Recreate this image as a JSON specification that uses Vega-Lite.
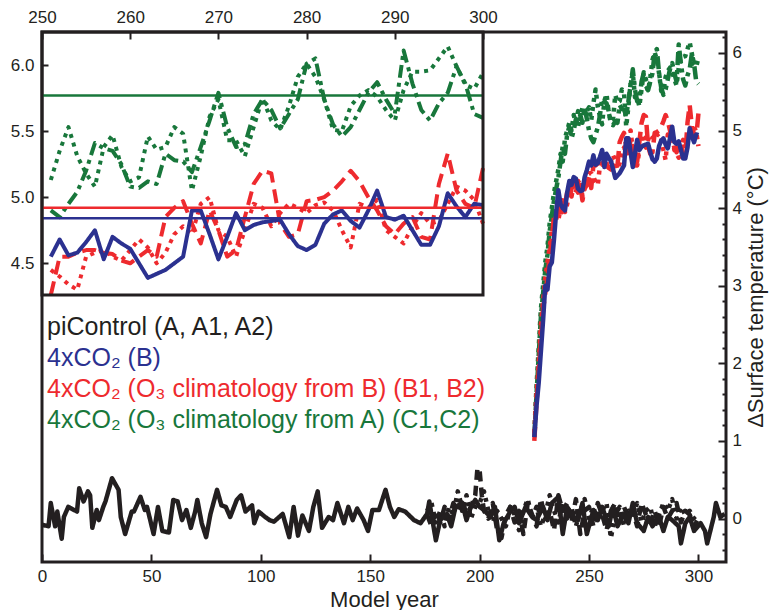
{
  "$schema": "https://vega.github.io/schema/vega-lite/v6.json",
  "width": 684,
  "height": 530,
  "autosize": {"type": "none"},
  "padding": {"left": 42, "top": 32, "right": 45, "bottom": 48},
  "background": "white",
  "config": {
    "font": "Liberation Sans",
    "view": {"stroke": "#231f20", "strokeWidth": 3},
    "axis": {"grid": false, "domain": false, "tickColor": "#231f20", "tickWidth": 2, "labelColor": "#231f20", "labelFontSize": 17, "labelFlush": false, "labelOverlap": false, "titleColor": "#231f20", "titleFontWeight": "normal"}
  },
  "datasets": {
    "runs": [
      {"series":"A2","year":176,"value":0.1},{"series":"A2","year":178,"value":0.2},{"series":"A2","year":180,"value":-0.05},{"series":"A2","year":182,"value":0.1},{"series":"A2","year":184,"value":-0.1},{"series":"A2","year":186,"value":0.15},{"series":"A2","year":188,"value":0.05},{"series":"A2","year":190,"value":0.35},{"series":"A2","year":191,"value":0.25},{"series":"A2","year":192,"value":0.1},{"series":"A2","year":194,"value":0.3},{"series":"A2","year":196,"value":0.0},{"series":"A2","year":198,"value":0.15},{"series":"A2","year":200,"value":0.2},{"series":"A2","year":202,"value":0.35},{"series":"A2","year":204,"value":0.1},{"series":"A2","year":206,"value":-0.05},{"series":"A2","year":208,"value":0.1},{"series":"A2","year":210,"value":0.0},{"series":"A2","year":212,"value":-0.1},{"series":"A2","year":214,"value":0.15},{"series":"A2","year":216,"value":0.05},{"series":"A2","year":218,"value":-0.15},{"series":"A2","year":220,"value":0.1},{"series":"A2","year":222,"value":0.25},{"series":"A2","year":224,"value":0.0},{"series":"A2","year":226,"value":0.15},{"series":"A2","year":228,"value":-0.1},{"series":"A2","year":230,"value":0.05},{"series":"A2","year":232,"value":0.3},{"series":"A2","year":234,"value":0.1},{"series":"A2","year":236,"value":-0.05},{"series":"A2","year":238,"value":0.2},{"series":"A2","year":240,"value":0.0},{"series":"A2","year":242,"value":0.15},{"series":"A2","year":244,"value":-0.1},{"series":"A2","year":246,"value":0.1},{"series":"A2","year":248,"value":0.25},{"series":"A2","year":250,"value":0.0},{"series":"A2","year":252,"value":0.15},{"series":"A2","year":254,"value":-0.05},{"series":"A2","year":256,"value":0.1},{"series":"A2","year":258,"value":0.2},{"series":"A2","year":260,"value":-0.25},{"series":"A2","year":262,"value":0.05},{"series":"A2","year":264,"value":0.15},{"series":"A2","year":266,"value":-0.1},{"series":"A2","year":268,"value":0.1},{"series":"A2","year":270,"value":0.05},{"series":"A2","year":272,"value":0.2},{"series":"A2","year":274,"value":-0.05},{"series":"A2","year":276,"value":0.1},{"series":"A2","year":278,"value":0.15},{"series":"A2","year":280,"value":-0.1},{"series":"A2","year":282,"value":0.05},{"series":"A2","year":284,"value":0.2},{"series":"A2","year":286,"value":0.1},{"series":"A2","year":288,"value":0.25},{"series":"A2","year":290,"value":0.0},{"series":"A2","year":292,"value":0.15},{"series":"A2","year":294,"value":0.05},{"series":"A2","year":296,"value":0.1},{"series":"A2","year":298,"value":0.0},{"series":"A2","year":300,"value":-0.05},
      {"series":"A1","year":176,"value":0.05},{"series":"A1","year":178,"value":-0.1},{"series":"A1","year":180,"value":0.1},{"series":"A1","year":182,"value":-0.05},{"series":"A1","year":184,"value":0.15},{"series":"A1","year":186,"value":0.0},{"series":"A1","year":188,"value":0.2},{"series":"A1","year":190,"value":0.1},{"series":"A1","year":192,"value":0.25},{"series":"A1","year":194,"value":0.05},{"series":"A1","year":196,"value":0.15},{"series":"A1","year":198,"value":0.3},{"series":"A1","year":199,"value":0.65},{"series":"A1","year":200,"value":0.62},{"series":"A1","year":201,"value":0.3},{"series":"A1","year":202,"value":0.1},{"series":"A1","year":204,"value":0.0},{"series":"A1","year":206,"value":0.2},{"series":"A1","year":208,"value":-0.15},{"series":"A1","year":210,"value":-0.25},{"series":"A1","year":212,"value":0.05},{"series":"A1","year":214,"value":0.15},{"series":"A1","year":216,"value":-0.05},{"series":"A1","year":218,"value":0.1},{"series":"A1","year":220,"value":-0.2},{"series":"A1","year":222,"value":0.2},{"series":"A1","year":224,"value":0.05},{"series":"A1","year":226,"value":-0.1},{"series":"A1","year":228,"value":0.25},{"series":"A1","year":230,"value":0.0},{"series":"A1","year":232,"value":0.1},{"series":"A1","year":234,"value":-0.15},{"series":"A1","year":236,"value":0.3},{"series":"A1","year":238,"value":0.1},{"series":"A1","year":240,"value":0.2},{"series":"A1","year":242,"value":-0.05},{"series":"A1","year":244,"value":0.25},{"series":"A1","year":246,"value":-0.2},{"series":"A1","year":248,"value":0.1},{"series":"A1","year":250,"value":0.15},{"series":"A1","year":252,"value":-0.1},{"series":"A1","year":254,"value":0.2},{"series":"A1","year":256,"value":0.05},{"series":"A1","year":258,"value":-0.15},{"series":"A1","year":260,"value":0.1},{"series":"A1","year":262,"value":0.2},{"series":"A1","year":264,"value":-0.05},{"series":"A1","year":266,"value":0.15},{"series":"A1","year":268,"value":0.0},{"series":"A1","year":270,"value":0.1},{"series":"A1","year":272,"value":-0.1},{"series":"A1","year":274,"value":0.2},{"series":"A1","year":276,"value":0.05},{"series":"A1","year":278,"value":-0.05},{"series":"A1","year":280,"value":0.1},{"series":"A1","year":282,"value":-0.1},{"series":"A1","year":284,"value":0.15},{"series":"A1","year":286,"value":0.0},{"series":"A1","year":288,"value":0.1},{"series":"A1","year":290,"value":0.2},{"series":"A1","year":292,"value":-0.05},{"series":"A1","year":294,"value":0.1},{"series":"A1","year":296,"value":0.05},{"series":"A1","year":298,"value":-0.1},{"series":"A1","year":300,"value":0.0},
      {"series":"A","year":0,"value":-0.08},{"series":"A","year":3,"value":-0.1},{"series":"A","year":4,"value":0.2},{"series":"A","year":6,"value":-0.1},{"series":"A","year":7,"value":0.09},{"series":"A","year":9,"value":-0.26},{"series":"A","year":10,"value":0.02},{"series":"A","year":12,"value":0.15},{"series":"A","year":16,"value":0.09},{"series":"A","year":17,"value":0.39},{"series":"A","year":19,"value":0.22},{"series":"A","year":21,"value":0.35},{"series":"A","year":22,"value":0.3},{"series":"A","year":23,"value":-0.12},{"series":"A","year":25,"value":0.11},{"series":"A","year":26,"value":-0.02},{"series":"A","year":28,"value":0.15},{"series":"A","year":29,"value":0.22},{"series":"A","year":32,"value":0.52},{"series":"A","year":35,"value":0.37},{"series":"A","year":36,"value":0.02},{"series":"A","year":38,"value":-0.2},{"series":"A","year":41,"value":0.09},{"series":"A","year":42,"value":0.09},{"series":"A","year":45,"value":0.28},{"series":"A","year":47,"value":0.11},{"series":"A","year":48,"value":0.15},{"series":"A","year":51,"value":-0.2},{"series":"A","year":53,"value":0.15},{"series":"A","year":55,"value":-0.16},{"series":"A","year":58,"value":-0.18},{"series":"A","year":60,"value":0.24},{"series":"A","year":62,"value":0.22},{"series":"A","year":64,"value":-0.02},{"series":"A","year":66,"value":0.11},{"series":"A","year":68,"value":-0.12},{"series":"A","year":70,"value":0.09},{"series":"A","year":71,"value":0.24},{"series":"A","year":73,"value":-0.06},{"series":"A","year":75,"value":-0.24},{"series":"A","year":77,"value":0.06},{"series":"A","year":80,"value":0.37},{"series":"A","year":82,"value":0.17},{"series":"A","year":84,"value":0.15},{"series":"A","year":86,"value":0.02},{"series":"A","year":89,"value":0.24},{"series":"A","year":91,"value":0.3},{"series":"A","year":93,"value":0.09},{"series":"A","year":96,"value":0.17},{"series":"A","year":97,"value":-0.06},{"series":"A","year":99,"value":0.09},{"series":"A","year":102,"value":0.02},{"series":"A","year":104,"value":-0.02},{"series":"A","year":106,"value":-0.04},{"series":"A","year":110,"value":0.06},{"series":"A","year":113,"value":-0.24},{"series":"A","year":115,"value":0.15},{"series":"A","year":117,"value":-0.22},{"series":"A","year":119,"value":0.04},{"series":"A","year":122,"value":-0.16},{"series":"A","year":124,"value":0.15},{"series":"A","year":126,"value":0.35},{"series":"A","year":128,"value":-0.12},{"series":"A","year":131,"value":0.02},{"series":"A","year":133,"value":-0.02},{"series":"A","year":135,"value":0.2},{"series":"A","year":138,"value":-0.06},{"series":"A","year":140,"value":0.15},{"series":"A","year":142,"value":-0.02},{"series":"A","year":144,"value":0.13},{"series":"A","year":147,"value":-0.02},{"series":"A","year":149,"value":-0.16},{"series":"A","year":151,"value":0.11},{"series":"A","year":154,"value":0.11},{"series":"A","year":157,"value":0.37},{"series":"A","year":159,"value":0.15},{"series":"A","year":161,"value":0.02},{"series":"A","year":163,"value":0.12},{"series":"A","year":166,"value":0.09},{"series":"A","year":170,"value":-0.02},{"series":"A","year":173,"value":-0.06},{"series":"A","year":176,"value":0.06},{"series":"A","year":177,"value":0.22},{"series":"A","year":180,"value":-0.28},{"series":"A","year":182,"value":-0.02},{"series":"A","year":185,"value":0.06},{"series":"A","year":187,"value":-0.1},{"series":"A","year":189,"value":0.15},{"series":"A","year":192,"value":0.2},{"series":"A","year":194,"value":-0.02},{"series":"A","year":196,"value":0.15},{"series":"A","year":198,"value":0.24},{"series":"A","year":200,"value":0.15},{"series":"A","year":202,"value":0.11},{"series":"A","year":205,"value":0.02},{"series":"A","year":207,"value":0.15},{"series":"A","year":209,"value":-0.28},{"series":"A","year":211,"value":-0.06},{"series":"A","year":214,"value":0.09},{"series":"A","year":216,"value":0.15},{"series":"A","year":218,"value":-0.06},{"series":"A","year":221,"value":0.15},{"series":"A","year":224,"value":0.02},{"series":"A","year":226,"value":-0.02},{"series":"A","year":229,"value":0.15},{"series":"A","year":231,"value":-0.02},{"series":"A","year":233,"value":0.2},{"series":"A","year":236,"value":0.28},{"series":"A","year":238,"value":-0.2},{"series":"A","year":240,"value":0.15},{"series":"A","year":243,"value":0.02},{"series":"A","year":245,"value":-0.02},{"series":"A","year":247,"value":0.2},{"series":"A","year":249,"value":-0.2},{"series":"A","year":252,"value":0.11},{"series":"A","year":254,"value":-0.02},{"series":"A","year":256,"value":0.15},{"series":"A","year":259,"value":-0.1},{"series":"A","year":261,"value":0.15},{"series":"A","year":263,"value":-0.1},{"series":"A","year":266,"value":0.06},{"series":"A","year":268,"value":-0.06},{"series":"A","year":270,"value":0.2},{"series":"A","year":272,"value":-0.06},{"series":"A","year":275,"value":-0.16},{"series":"A","year":277,"value":0.02},{"series":"A","year":279,"value":-0.1},{"series":"A","year":282,"value":0.02},{"series":"A","year":284,"value":-0.16},{"series":"A","year":286,"value":0.02},{"series":"A","year":288,"value":-0.02},{"series":"A","year":291,"value":-0.1},{"series":"A","year":292,"value":-0.32},{"series":"A","year":294,"value":-0.06},{"series":"A","year":296,"value":0.02},{"series":"A","year":298,"value":-0.16},{"series":"A","year":301,"value":-0.06},{"series":"A","year":303,"value":-0.16},{"series":"A","year":304,"value":-0.32},{"series":"A","year":307,"value":0.02},{"series":"A","year":308,"value":0.2},{"series":"A","year":310,"value":0.02},{"series":"A","year":312,"value":0.06},
      {"series":"C2","year":225,"value":1.1},{"series":"C2","year":226,"value":1.7},{"series":"C2","year":227,"value":2.2},{"series":"C2","year":228,"value":2.7},{"series":"C2","year":229,"value":3.0},{"series":"C2","year":230,"value":3.3},{"series":"C2","year":231,"value":3.5},{"series":"C2","year":232,"value":3.8},{"series":"C2","year":233,"value":4.0},{"series":"C2","year":234,"value":4.2},{"series":"C2","year":235,"value":4.35},{"series":"C2","year":236,"value":4.5},{"series":"C2","year":237,"value":4.7},{"series":"C2","year":238,"value":4.6},{"series":"C2","year":239,"value":4.9},{"series":"C2","year":240,"value":5.0},{"series":"C2","year":241,"value":5.1},{"series":"C2","year":242,"value":5.0},{"series":"C2","year":243,"value":5.2},{"series":"C2","year":244,"value":5.1},{"series":"C2","year":245,"value":5.25},{"series":"C2","year":246,"value":5.15},{"series":"C2","year":247,"value":5.3},{"series":"C2","year":248,"value":5.2},{"series":"C2","year":249,"value":5.25},{"series":"C2","year":250,"value":5.3},
      {"series":"C2","year":251,"value":5.13},{"series":"C2","year":252,"value":5.35},{"series":"C2","year":253,"value":5.53},{"series":"C2","year":254,"value":5.31},{"series":"C2","year":255,"value":5.18},{"series":"C2","year":256,"value":5.08},{"series":"C2","year":257,"value":5.38},{"series":"C2","year":258,"value":5.47},{"series":"C2","year":259,"value":5.23},{"series":"C2","year":260,"value":5.12},{"series":"C2","year":261,"value":5.15},{"series":"C2","year":262,"value":5.46},{"series":"C2","year":263,"value":5.36},{"series":"C2","year":264,"value":5.38},{"series":"C2","year":265,"value":5.53},{"series":"C2","year":266,"value":5.48},{"series":"C2","year":267,"value":5.05},{"series":"C2","year":268,"value":5.31},{"series":"C2","year":269,"value":5.61},{"series":"C2","year":270,"value":5.74},{"series":"C2","year":271,"value":5.43},{"series":"C2","year":272,"value":5.43},{"series":"C2","year":273,"value":5.31},{"series":"C2","year":274,"value":5.53},{"series":"C2","year":275,"value":5.75},{"series":"C2","year":276,"value":5.58},{"series":"C2","year":277,"value":5.51},{"series":"C2","year":278,"value":5.69},{"series":"C2","year":279,"value":5.91},{"series":"C2","year":280,"value":6.01},{"series":"C2","year":281,"value":5.91},{"series":"C2","year":282,"value":5.74},{"series":"C2","year":283,"value":5.51},{"series":"C2","year":284,"value":5.5},{"series":"C2","year":285,"value":5.69},{"series":"C2","year":286,"value":5.77},{"series":"C2","year":287,"value":5.81},{"series":"C2","year":288,"value":5.76},{"series":"C2","year":289,"value":5.66},{"series":"C2","year":290,"value":5.58},{"series":"C2","year":291,"value":5.81},{"series":"C2","year":292,"value":5.95},{"series":"C2","year":293,"value":5.95},{"series":"C2","year":294,"value":5.96},{"series":"C2","year":295,"value":6.05},{"series":"C2","year":296,"value":6.14},{"series":"C2","year":297,"value":5.99},{"series":"C2","year":298,"value":5.85},{"series":"C2","year":299,"value":5.82},{"series":"C2","year":300,"value":5.94},
      {"series":"C1","year":225,"value":1.05},{"series":"C1","year":226,"value":1.6},{"series":"C1","year":227,"value":2.1},{"series":"C1","year":228,"value":2.6},{"series":"C1","year":229,"value":2.9},{"series":"C1","year":230,"value":3.2},{"series":"C1","year":231,"value":3.4},{"series":"C1","year":232,"value":3.7},{"series":"C1","year":233,"value":3.9},{"series":"C1","year":234,"value":4.1},{"series":"C1","year":235,"value":4.25},{"series":"C1","year":236,"value":4.4},{"series":"C1","year":237,"value":4.6},{"series":"C1","year":238,"value":4.8},{"series":"C1","year":239,"value":4.7},{"series":"C1","year":240,"value":4.95},{"series":"C1","year":241,"value":5.05},{"series":"C1","year":242,"value":4.9},{"series":"C1","year":243,"value":5.0},{"series":"C1","year":244,"value":5.15},{"series":"C1","year":245,"value":5.05},{"series":"C1","year":246,"value":5.2},{"series":"C1","year":247,"value":5.1},{"series":"C1","year":248,"value":5.3},{"series":"C1","year":249,"value":5.15},{"series":"C1","year":250,"value":5.0},
      {"series":"C1","year":251,"value":4.9},{"series":"C1","year":252,"value":4.85},{"series":"C1","year":253,"value":4.95},{"series":"C1","year":254,"value":5.04},{"series":"C1","year":255,"value":5.2},{"series":"C1","year":256,"value":5.41},{"series":"C1","year":257,"value":5.37},{"series":"C1","year":258,"value":5.35},{"series":"C1","year":259,"value":5.25},{"series":"C1","year":260,"value":5.08},{"series":"C1","year":261,"value":5.07},{"series":"C1","year":262,"value":5.12},{"series":"C1","year":263,"value":5.1},{"series":"C1","year":264,"value":5.33},{"series":"C1","year":265,"value":5.28},{"series":"C1","year":266,"value":5.27},{"series":"C1","year":267,"value":5.19},{"series":"C1","year":268,"value":5.38},{"series":"C1","year":269,"value":5.58},{"series":"C1","year":270,"value":5.79},{"series":"C1","year":271,"value":5.53},{"series":"C1","year":272,"value":5.38},{"series":"C1","year":273,"value":5.4},{"series":"C1","year":274,"value":5.63},{"series":"C1","year":275,"value":5.74},{"series":"C1","year":276,"value":5.66},{"series":"C1","year":277,"value":5.52},{"series":"C1","year":278,"value":5.63},{"series":"C1","year":279,"value":5.74},{"series":"C1","year":280,"value":6.01},{"series":"C1","year":281,"value":6.05},{"series":"C1","year":282,"value":5.74},{"series":"C1","year":283,"value":5.55},{"series":"C1","year":284,"value":5.46},{"series":"C1","year":285,"value":5.53},{"series":"C1","year":286,"value":5.66},{"series":"C1","year":287,"value":5.79},{"series":"C1","year":288,"value":5.87},{"series":"C1","year":289,"value":5.74},{"series":"C1","year":290,"value":5.63},{"series":"C1","year":291,"value":6.11},{"series":"C1","year":292,"value":5.86},{"series":"C1","year":293,"value":5.66},{"series":"C1","year":294,"value":5.58},{"series":"C1","year":295,"value":5.71},{"series":"C1","year":296,"value":5.79},{"series":"C1","year":297,"value":5.99},{"series":"C1","year":298,"value":5.86},{"series":"C1","year":299,"value":5.63},{"series":"C1","year":300,"value":5.6},
      {"series":"B2","year":225,"value":1.1},{"series":"B2","year":226,"value":1.6},{"series":"B2","year":227,"value":2.0},{"series":"B2","year":228,"value":2.5},{"series":"B2","year":229,"value":2.8},{"series":"B2","year":230,"value":3.1},{"series":"B2","year":231,"value":3.3},{"series":"B2","year":232,"value":3.5},{"series":"B2","year":233,"value":3.7},{"series":"B2","year":234,"value":3.8},{"series":"B2","year":235,"value":3.9},{"series":"B2","year":236,"value":3.85},{"series":"B2","year":237,"value":4.0},{"series":"B2","year":238,"value":4.1},{"series":"B2","year":239,"value":3.95},{"series":"B2","year":240,"value":4.05},{"series":"B2","year":241,"value":4.2},{"series":"B2","year":242,"value":4.15},{"series":"B2","year":243,"value":4.3},{"series":"B2","year":244,"value":4.25},{"series":"B2","year":245,"value":4.2},{"series":"B2","year":246,"value":4.35},{"series":"B2","year":247,"value":4.15},{"series":"B2","year":248,"value":4.3},{"series":"B2","year":249,"value":4.4},{"series":"B2","year":250,"value":4.45},
      {"series":"B2","year":251,"value":4.45},{"series":"B2","year":252,"value":4.4},{"series":"B2","year":253,"value":4.34},{"series":"B2","year":254,"value":4.3},{"series":"B2","year":255,"value":4.55},{"series":"B2","year":256,"value":4.58},{"series":"B2","year":257,"value":4.6},{"series":"B2","year":258,"value":4.55},{"series":"B2","year":259,"value":4.52},{"series":"B2","year":260,"value":4.6},{"series":"B2","year":261,"value":4.68},{"series":"B2","year":262,"value":4.62},{"series":"B2","year":263,"value":4.5},{"series":"B2","year":264,"value":4.58},{"series":"B2","year":265,"value":4.72},{"series":"B2","year":266,"value":4.78},{"series":"B2","year":267,"value":4.72},{"series":"B2","year":268,"value":4.95},{"series":"B2","year":269,"value":5.0},{"series":"B2","year":270,"value":4.75},{"series":"B2","year":271,"value":4.7},{"series":"B2","year":272,"value":4.55},{"series":"B2","year":273,"value":4.75},{"series":"B2","year":274,"value":4.95},{"series":"B2","year":275,"value":4.92},{"series":"B2","year":276,"value":4.78},{"series":"B2","year":277,"value":4.88},{"series":"B2","year":278,"value":4.95},{"series":"B2","year":279,"value":4.92},{"series":"B2","year":280,"value":4.88},{"series":"B2","year":281,"value":4.94},{"series":"B2","year":282,"value":4.96},{"series":"B2","year":283,"value":4.9},{"series":"B2","year":284,"value":4.75},{"series":"B2","year":285,"value":4.62},{"series":"B2","year":286,"value":4.95},{"series":"B2","year":287,"value":4.92},{"series":"B2","year":288,"value":4.98},{"series":"B2","year":289,"value":4.75},{"series":"B2","year":290,"value":4.7},{"series":"B2","year":291,"value":4.65},{"series":"B2","year":292,"value":4.78},{"series":"B2","year":293,"value":4.88},{"series":"B2","year":294,"value":4.8},{"series":"B2","year":295,"value":4.82},{"series":"B2","year":296,"value":4.95},{"series":"B2","year":297,"value":5.08},{"series":"B2","year":298,"value":5.05},{"series":"B2","year":299,"value":4.98},{"series":"B2","year":300,"value":4.8},
      {"series":"B1","year":225,"value":1.0},{"series":"B1","year":226,"value":1.5},{"series":"B1","year":227,"value":1.9},{"series":"B1","year":228,"value":2.3},{"series":"B1","year":229,"value":2.7},{"series":"B1","year":230,"value":2.9},{"series":"B1","year":231,"value":3.1},{"series":"B1","year":232,"value":3.4},{"series":"B1","year":233,"value":3.6},{"series":"B1","year":234,"value":3.9},{"series":"B1","year":235,"value":3.85},{"series":"B1","year":236,"value":4.0},{"series":"B1","year":237,"value":3.9},{"series":"B1","year":238,"value":4.1},{"series":"B1","year":239,"value":4.05},{"series":"B1","year":240,"value":4.2},{"series":"B1","year":241,"value":4.1},{"series":"B1","year":242,"value":4.25},{"series":"B1","year":243,"value":4.3},{"series":"B1","year":244,"value":4.2},{"series":"B1","year":245,"value":4.35},{"series":"B1","year":246,"value":4.3},{"series":"B1","year":247,"value":4.1},{"series":"B1","year":248,"value":4.25},{"series":"B1","year":249,"value":4.3},{"series":"B1","year":250,"value":4.4},
      {"series":"B1","year":251,"value":4.26},{"series":"B1","year":252,"value":4.55},{"series":"B1","year":253,"value":4.55},{"series":"B1","year":254,"value":4.58},{"series":"B1","year":255,"value":4.6},{"series":"B1","year":256,"value":4.6},{"series":"B1","year":257,"value":4.58},{"series":"B1","year":258,"value":4.57},{"series":"B1","year":259,"value":4.52},{"series":"B1","year":260,"value":4.5},{"series":"B1","year":261,"value":4.55},{"series":"B1","year":262,"value":4.6},{"series":"B1","year":263,"value":4.55},{"series":"B1","year":264,"value":4.85},{"series":"B1","year":265,"value":4.92},{"series":"B1","year":266,"value":4.97},{"series":"B1","year":267,"value":4.8},{"series":"B1","year":268,"value":4.65},{"series":"B1","year":269,"value":4.9},{"series":"B1","year":270,"value":4.75},{"series":"B1","year":271,"value":4.55},{"series":"B1","year":272,"value":4.6},{"series":"B1","year":273,"value":4.85},{"series":"B1","year":274,"value":5.1},{"series":"B1","year":275,"value":5.2},{"series":"B1","year":276,"value":5.18},{"series":"B1","year":277,"value":4.8},{"series":"B1","year":278,"value":4.7},{"series":"B1","year":279,"value":4.72},{"series":"B1","year":280,"value":4.97},{"series":"B1","year":281,"value":4.98},{"series":"B1","year":282,"value":5.0},{"series":"B1","year":283,"value":5.05},{"series":"B1","year":284,"value":5.12},{"series":"B1","year":285,"value":5.2},{"series":"B1","year":286,"value":5.12},{"series":"B1","year":287,"value":5.0},{"series":"B1","year":288,"value":4.9},{"series":"B1","year":289,"value":4.78},{"series":"B1","year":290,"value":4.72},{"series":"B1","year":291,"value":4.8},{"series":"B1","year":292,"value":4.85},{"series":"B1","year":293,"value":4.7},{"series":"B1","year":294,"value":4.68},{"series":"B1","year":295,"value":5.1},{"series":"B1","year":296,"value":5.33},{"series":"B1","year":297,"value":5.05},{"series":"B1","year":298,"value":4.95},{"series":"B1","year":299,"value":4.92},{"series":"B1","year":300,"value":5.22},
      {"series":"B","year":225,"value":1.05},{"series":"B","year":226,"value":1.45},{"series":"B","year":227,"value":1.75},{"series":"B","year":228,"value":2.15},{"series":"B","year":229,"value":2.55},{"series":"B","year":230,"value":3.0},{"series":"B","year":231,"value":2.95},{"series":"B","year":232,"value":3.25},{"series":"B","year":233,"value":3.3},{"series":"B","year":234,"value":3.6},{"series":"B","year":235,"value":3.95},{"series":"B","year":236,"value":4.23},{"series":"B","year":237,"value":4.05},{"series":"B","year":238,"value":4.0},{"series":"B","year":239,"value":3.97},{"series":"B","year":240,"value":4.2},{"series":"B","year":241,"value":4.35},{"series":"B","year":242,"value":4.3},{"series":"B","year":243,"value":4.4},{"series":"B","year":244,"value":4.38},{"series":"B","year":245,"value":4.25},{"series":"B","year":246,"value":4.22},{"series":"B","year":247,"value":4.23},{"series":"B","year":248,"value":4.4},{"series":"B","year":249,"value":4.49},{"series":"B","year":250,"value":4.6},
      {"series":"B","year":251,"value":4.55},{"series":"B","year":252,"value":4.68},{"series":"B","year":253,"value":4.56},{"series":"B","year":254,"value":4.58},{"series":"B","year":255,"value":4.66},{"series":"B","year":256,"value":4.75},{"series":"B","year":257,"value":4.53},{"series":"B","year":258,"value":4.7},{"series":"B","year":259,"value":4.65},{"series":"B","year":260,"value":4.61},{"series":"B","year":261,"value":4.5},{"series":"B","year":262,"value":4.39},{"series":"B","year":263,"value":4.42},{"series":"B","year":264,"value":4.45},{"series":"B","year":265,"value":4.5},{"series":"B","year":266,"value":4.55},{"series":"B","year":267,"value":4.9},{"series":"B","year":268,"value":4.9},{"series":"B","year":269,"value":4.72},{"series":"B","year":270,"value":4.53},{"series":"B","year":271,"value":4.7},{"series":"B","year":272,"value":4.88},{"series":"B","year":273,"value":4.75},{"series":"B","year":274,"value":4.79},{"series":"B","year":275,"value":4.81},{"series":"B","year":276,"value":4.82},{"series":"B","year":277,"value":4.83},{"series":"B","year":278,"value":4.72},{"series":"B","year":279,"value":4.63},{"series":"B","year":280,"value":4.6},{"series":"B","year":281,"value":4.64},{"series":"B","year":282,"value":4.8},{"series":"B","year":283,"value":4.87},{"series":"B","year":284,"value":4.9},{"series":"B","year":285,"value":4.82},{"series":"B","year":286,"value":4.77},{"series":"B","year":287,"value":4.9},{"series":"B","year":288,"value":5.05},{"series":"B","year":289,"value":4.85},{"series":"B","year":290,"value":4.83},{"series":"B","year":291,"value":4.86},{"series":"B","year":292,"value":4.75},{"series":"B","year":293,"value":4.64},{"series":"B","year":294,"value":4.64},{"series":"B","year":295,"value":4.78},{"series":"B","year":296,"value":5.03},{"series":"B","year":297,"value":4.93},{"series":"B","year":298,"value":4.85},{"series":"B","year":299,"value":4.95},{"series":"B","year":300,"value":4.94}
    ],
    "means": [
      {"series": "C1", "mean": 5.77},
      {"series": "B1", "mean": 4.92},
      {"series": "B", "mean": 4.84}
    ]
  },
  "layer": [
    {
      "data": {"name": "runs"},
      "mark": {"type": "line", "strokeWidth": 4.5, "strokeJoin": "round"},
      "encoding": {
        "x": {"field": "year", "type": "quantitative",
          "scale": {"domain": [0, 312.6], "nice": false, "zero": false},
          "axis": {"orient": "bottom", "values": [0, 50, 100, 150, 200, 250, 300], "tickSize": -8, "labelPadding": 14, "title": "Model year", "titleFontSize": 22, "titlePadding": 5}},
        "y": {"field": "value", "type": "quantitative",
          "scale": {"domain": [-0.56, 6.27], "nice": false, "zero": false},
          "axis": {"orient": "right", "values": [-0.4, -0.2, 0, 0.2, 0.4, 0.6, 0.8, 1, 1.2, 1.4, 1.6, 1.8, 2, 2.2, 2.4, 2.6, 2.8, 3, 3.2, 3.4, 3.6, 3.8, 4, 4.2, 4.4, 4.6, 4.8, 5, 5.2, 5.4, 5.6, 5.8, 6, 6.2],
            "labelExpr": "abs(datum.value - round(datum.value)) < 0.01 ? format(datum.value, 'd') : ''",
            "tickSize": {"condition": {"test": "abs(datum.value - round(datum.value)) < 0.01", "value": -8}, "value": -4},
            "labelPadding": 14, "labelAlign": "left",
            "title": "ΔSurface temperature (°C)", "titleFontSize": 22, "titleAngle": 270, "titleBaseline": "top", "titlePadding": 4}},
        "color": {"field": "series", "type": "nominal",
          "scale": {"domain": ["A", "A1", "A2", "B", "B1", "B2", "C1", "C2"], "range": ["#231f20", "#231f20", "#231f20", "#2b3190", "#ee2a2e", "#ee2a2e", "#18773b", "#18773b"]},
          "legend": {"orient": "none", "legendX": -20, "legendY": 282, "direction": "vertical", "title": null, "values": ["A", "B", "B1", "C1"],
            "labelExpr": "datum.value == 'A' ? 'piControl (A, A1, A2)' : datum.value == 'B' ? '4xCO₂ (B)' : datum.value == 'B1' ? '4xCO₂ (O₃ climatology from B) (B1, B2)' : '4xCO₂ (O₃ climatology from A) (C1,C2)'",
            "symbolType": "circle", "symbolOpacity": 0, "symbolSize": 0, "symbolStrokeWidth": 0, "labelFontSize": 25, "labelLimit": 700, "labelOffset": 0, "rowPadding": 5.2, "padding": 0,
            "encode": {"labels": {"update": {"fill": {"scale": "color", "field": "value"}}}}}},
        "strokeDash": {"field": "series", "type": "nominal",
          "scale": {"domain": ["A", "A1", "A2", "B", "B1", "B2", "C1", "C2"], "range": [[1, 0], [10, 6], [4, 5], [1, 0], [14, 7], [4, 5], [13, 5, 4, 5], [4, 5]]},
          "legend": null}
      }
    },
    {
      "layer": [
        {
          "data": {"name": "runs"},
          "transform": [
            {"filter": {"field": "series", "oneOf": ["C2", "C1", "B2", "B1", "B"]}},
            {"filter": {"field": "year", "range": [251, 300]}}
          ],
          "mark": {"type": "line", "strokeWidth": 4, "strokeJoin": "round", "clip": true},
          "encoding": {
            "x": {"field": "year", "type": "quantitative",
              "scale": {"domain": [250, 300], "range": [0, 441], "nice": false, "zero": false},
              "axis": {"orient": "top", "values": [250, 260, 270, 280, 290, 300], "tickSize": -7, "labelPadding": 13, "title": null}},
            "y": {"field": "value", "type": "quantitative",
              "scale": {"domain": [4.26, 6.25], "range": [263, 0], "nice": false, "zero": false},
              "axis": {"orient": "left", "values": [4.5, 5, 5.5, 6], "format": ".1f", "tickSize": -6, "labelPadding": 14, "title": null}},
            "color": {"field": "series", "type": "nominal"},
            "strokeDash": {"field": "series", "type": "nominal"}
          }
        },
        {
          "data": {"name": "means"},
          "mark": {"type": "rule", "strokeWidth": 2.5},
          "encoding": {
            "x": {"datum": 250},
            "x2": {"datum": 300},
            "y": {"field": "mean", "type": "quantitative"},
            "color": {"field": "series", "type": "nominal"}
          }
        },
        {
          "data": {"values": [{}]},
          "mark": {"type": "rect", "fillOpacity": 0, "stroke": "#231f20", "strokeWidth": 3},
          "encoding": {
            "x": {"datum": 250},
            "x2": {"datum": 300},
            "y": {"datum": 4.26},
            "y2": {"datum": 6.25}
          }
        }
      ]
    }
  ],
  "resolve": {"scale": {"x": "independent", "y": "independent"}}
}
